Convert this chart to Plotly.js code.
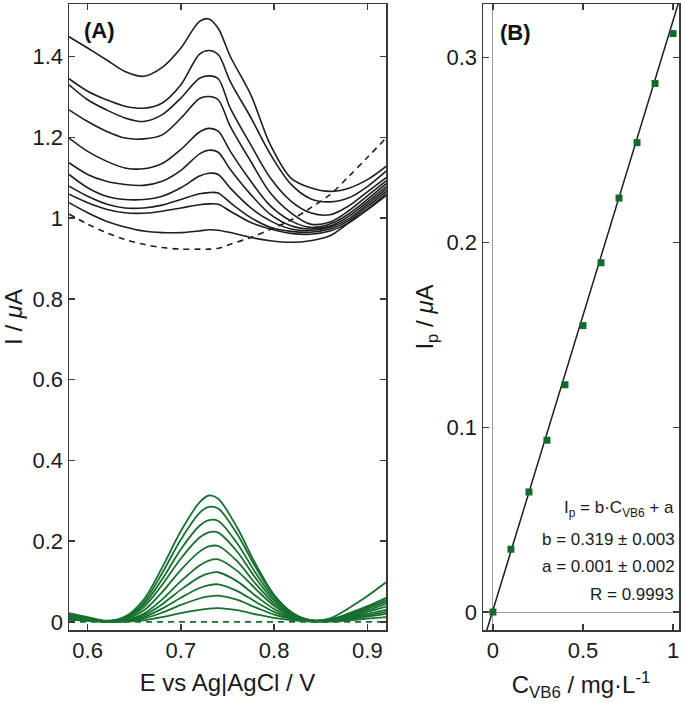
<!DOCTYPE html>
<html>
<head>
<meta charset="utf-8">
<script src="https://cdn.plot.ly/plotly-3.0.1.min.js"></script>
<style>html,body{margin:0;padding:0;background:#fff;}#chart{width:685px;height:714px;}</style>
</head>
<body>
<div id="chart"></div>
<script>
// ---------- Panel A: raw voltammograms (black) ----------
const E_BLACK = [0.58,0.60,0.62,0.64,0.66,0.68,0.70,0.72,0.73,0.74,0.753,0.775,0.796,0.818,0.839,0.86,0.88,0.90,0.92];
const RAW_BLANK = [1.010,0.985,0.964,0.947,0.935,0.927,0.923,0.923,0.923,0.925,0.935,0.952,0.972,0.995,1.025,1.058,1.103,1.150,1.198];
const RAW_1  = [1.449,1.421,1.392,1.363,1.351,1.373,1.421,1.487,1.493,1.470,1.400,1.305,1.181,1.099,1.075,1.066,1.074,1.095,1.128];
const RAW_2  = [1.345,1.314,1.293,1.277,1.272,1.285,1.330,1.406,1.415,1.405,1.338,1.249,1.158,1.084,1.048,1.040,1.050,1.078,1.116];
const RAW_3  = [1.330,1.293,1.268,1.248,1.239,1.256,1.297,1.346,1.352,1.345,1.272,1.181,1.099,1.042,1.013,1.008,1.030,1.065,1.100];
const RAW_4  = [1.268,1.239,1.215,1.198,1.196,1.206,1.247,1.296,1.301,1.293,1.227,1.140,1.062,1.013,0.985,0.990,1.018,1.055,1.092];
const RAW_5  = [1.198,1.165,1.141,1.124,1.122,1.135,1.170,1.213,1.222,1.215,1.165,1.091,1.030,0.993,0.977,0.985,1.010,1.046,1.085];
const RAW_6  = [1.137,1.108,1.091,1.083,1.081,1.091,1.118,1.159,1.168,1.163,1.120,1.058,1.009,0.981,0.973,0.980,1.004,1.040,1.078];
const RAW_7  = [1.108,1.075,1.054,1.046,1.046,1.054,1.075,1.104,1.111,1.108,1.074,1.025,0.993,0.973,0.969,0.977,0.998,1.034,1.072];
const RAW_8  = [1.079,1.054,1.035,1.025,1.025,1.032,1.046,1.060,1.063,1.062,1.038,1.001,0.977,0.967,0.965,0.973,0.993,1.028,1.066];
const RAW_9  = [1.059,1.038,1.022,1.013,1.012,1.017,1.025,1.033,1.035,1.034,1.017,0.989,0.973,0.962,0.960,0.968,0.988,1.022,1.060];
const RAW_10 = [1.038,1.013,0.992,0.978,0.968,0.964,0.964,0.968,0.971,0.970,0.964,0.952,0.944,0.940,0.944,0.956,0.988,1.020,1.055];

// ---------- Panel A: baseline-corrected voltammograms (green) ----------
const E_GREEN = [0.58,0.60,0.62,0.64,0.66,0.68,0.70,0.72,0.73,0.74,0.76,0.78,0.80,0.82,0.84,0.86,0.88,0.90,0.92];
const CORR_BLANK = [0,0,0,0,0,0,0,0,0,0,0,0,0,0,0,0,0,0,0];
const CORR_1  = [0.022,0.012,0.003,0.013,0.055,0.135,0.225,0.296,0.313,0.305,0.235,0.144,0.067,0.022,0.004,0.009,0.034,0.064,0.098];
const CORR_2  = [0.018,0.010,0.002,0.011,0.048,0.121,0.204,0.270,0.285,0.281,0.219,0.136,0.064,0.021,0.004,0.006,0.021,0.039,0.060];
const CORR_3  = [0.016,0.009,0.002,0.010,0.042,0.106,0.180,0.238,0.252,0.250,0.196,0.122,0.058,0.019,0.004,0.005,0.019,0.036,0.055];
const CORR_4  = [0.014,0.008,0.002,0.008,0.036,0.092,0.157,0.209,0.222,0.221,0.175,0.109,0.052,0.017,0.004,0.005,0.017,0.033,0.050];
const CORR_5  = [0.012,0.007,0.001,0.006,0.028,0.074,0.129,0.174,0.187,0.188,0.151,0.095,0.046,0.015,0.003,0.004,0.016,0.029,0.045];
const CORR_6  = [0.011,0.006,0.001,0.004,0.020,0.056,0.101,0.140,0.152,0.155,0.127,0.082,0.040,0.014,0.003,0.004,0.013,0.025,0.038];
const CORR_7  = [0.009,0.005,0.001,0.003,0.016,0.044,0.080,0.111,0.120,0.123,0.101,0.065,0.032,0.011,0.002,0.003,0.011,0.020,0.030];
const CORR_8  = [0.008,0.004,0.001,0.002,0.012,0.033,0.060,0.084,0.091,0.093,0.077,0.050,0.025,0.009,0.002,0.002,0.009,0.016,0.025];
const CORR_9  = [0.006,0.003,0.000,0.002,0.008,0.023,0.042,0.058,0.063,0.065,0.055,0.036,0.018,0.007,0.002,0.002,0.007,0.013,0.020];
const CORR_10 = [0.005,0.003,0.000,0.001,0.004,0.012,0.022,0.030,0.033,0.034,0.029,0.019,0.010,0.004,0.001,0.001,0.004,0.008,0.012];

// ---------- Panel B: calibration ----------
const CONC = [0,0.1,0.2,0.3,0.4,0.5,0.6,0.7,0.8,0.9,1.0];
const IP   = [0.000,0.034,0.065,0.093,0.123,0.155,0.189,0.224,0.254,0.286,0.313];
const FIT_B = 0.319, FIT_A = 0.001;
const FIT_X = [-0.08, 1.06];

// ---------- tick labels ----------
const A_XTICKS = [0.6,0.7,0.8,0.9];
const A_XTEXT  = ['0.6','0.7','0.8','0.9'];
const A_YTICKS = [0,0.2,0.4,0.6,0.8,1.0,1.2,1.4];
const A_YTEXT  = ['0','0.2','0.4','0.6','0.8','1','1.2','1.4'];
const B_XTICKS = [0,0.5,1];
const B_XTEXT  = ['0','0.5','1'];
const B_YTICKS = [0,0.1,0.2,0.3];
const B_YTEXT  = ['0','0.1','0.2','0.3'];

const BLACK = '#1e1e1e';
const GREEN = '#17702f';
const FONT = 'Liberation Sans, Arial, Helvetica, sans-serif';

const traces = [];
const rawSet = [RAW_1,RAW_2,RAW_3,RAW_4,RAW_5,RAW_6,RAW_7,RAW_8,RAW_9,RAW_10];
rawSet.forEach(y => traces.push({x:E_BLACK, y:y, type:'scatter', mode:'lines', line:{color:BLACK, width:1.6, shape:'spline', smoothing:0.9}, xaxis:'x', yaxis:'y', hoverinfo:'skip'}));
traces.push({x:E_BLACK, y:RAW_BLANK, type:'scatter', mode:'lines', line:{color:BLACK, width:1.6, dash:'6px,5px', shape:'spline', smoothing:0.9}, xaxis:'x', yaxis:'y'});
const corrSet = [CORR_1,CORR_2,CORR_3,CORR_4,CORR_5,CORR_6,CORR_7,CORR_8,CORR_9,CORR_10];
corrSet.forEach(y => traces.push({x:E_GREEN, y:y, type:'scatter', mode:'lines', line:{color:GREEN, width:1.8, shape:'spline', smoothing:0.9}, xaxis:'x', yaxis:'y'}));
traces.push({x:E_GREEN, y:CORR_BLANK, type:'scatter', mode:'lines', line:{color:GREEN, width:1.8, dash:'6px,5px'}, xaxis:'x', yaxis:'y'});

// panel B
traces.push({x:FIT_X, y:FIT_X.map(c => FIT_B*c + FIT_A), type:'scatter', mode:'lines', line:{color:BLACK, width:1.5}, xaxis:'x2', yaxis:'y2'});
traces.push({x:CONC, y:IP, type:'scatter', mode:'markers', marker:{symbol:'square', size:7, color:'#15692c'}, xaxis:'x2', yaxis:'y2'});

const axisCommon = {
  showline:true, mirror:'ticks', linecolor:'#3a3a3a', linewidth:1.5,
  ticks:'inside', ticklen:6, tickwidth:1.5, tickcolor:'#3a3a3a',
  showgrid:false, tickfont:{family:FONT, size:22, color:'#1a1a1a'},
  tickmode:'array'
};

const layout = {
  width:685, height:714,
  margin:{l:69, r:6, t:4, b:84},
  paper_bgcolor:'#fff', plot_bgcolor:'#fff',
  showlegend:false,
  font:{family:FONT, color:'#1a1a1a'},
  xaxis: Object.assign({}, axisCommon, {domain:[0,0.5197], range:[0.58,0.92], tickvals:A_XTICKS, ticktext:A_XTEXT, zeroline:false,
    title:{text:'E vs Ag|AgCl / V', font:{family:FONT, size:24}, standoff:12}}),
  yaxis: Object.assign({}, axisCommon, {range:[-0.02,1.53], tickvals:A_YTICKS, ticktext:A_YTEXT, zeroline:false,
    title:{text:'I / <i>μ</i>A', font:{family:FONT, size:24}, standoff:6}}),
  xaxis2: Object.assign({}, axisCommon, {domain:[0.6787,1], range:[-0.055,1.033], tickvals:B_XTICKS, ticktext:B_XTEXT, anchor:'y2',
    zeroline:true, zerolinecolor:'#9a9a9a', zerolinewidth:1,
    title:{text:'C<sub>VB6</sub> / mg·L<sup>-1</sup>', font:{family:FONT, size:24}, standoff:14}}),
  yaxis2: Object.assign({}, axisCommon, {range:[-0.0097,0.329], tickvals:B_YTICKS, ticktext:B_YTEXT, anchor:'x2',
    zeroline:true, zerolinecolor:'#9a9a9a', zerolinewidth:1,
    title:{text:'I<sub>p</sub> / <i>μ</i>A', font:{family:FONT, size:24}, standoff:6}}),
  annotations:[
    {xref:'paper', yref:'paper', x:0.022, y:0.957, xanchor:'left', yanchor:'middle', text:'<b>(A)</b>', showarrow:false, font:{family:FONT, size:22, color:'#111'}},
    {xref:'paper', yref:'paper', x:0.703, y:0.955, xanchor:'left', yanchor:'middle', text:'<b>(B)</b>', showarrow:false, font:{family:FONT, size:22, color:'#111'}},
    {xref:'paper', yref:'paper', x:0.995, y:0.193, xanchor:'right', yanchor:'middle', text:'I<sub>p</sub> = b·C<sub>VB6</sub> + a', showarrow:false, font:{family:FONT, size:17}},
    {xref:'paper', yref:'paper', x:0.997, y:0.145, xanchor:'right', yanchor:'middle', text:'b = 0.319 ± 0.003', showarrow:false, font:{family:FONT, size:17}},
    {xref:'paper', yref:'paper', x:0.997, y:0.101, xanchor:'right', yanchor:'middle', text:'a = 0.001 ± 0.002', showarrow:false, font:{family:FONT, size:17}},
    {xref:'paper', yref:'paper', x:0.995, y:0.056, xanchor:'right', yanchor:'middle', text:'R = 0.9993', showarrow:false, font:{family:FONT, size:17}}
  ]
};

Plotly.newPlot('chart', traces, layout, {displayModeBar:false, staticPlot:true});
</script>
</body>
</html>
